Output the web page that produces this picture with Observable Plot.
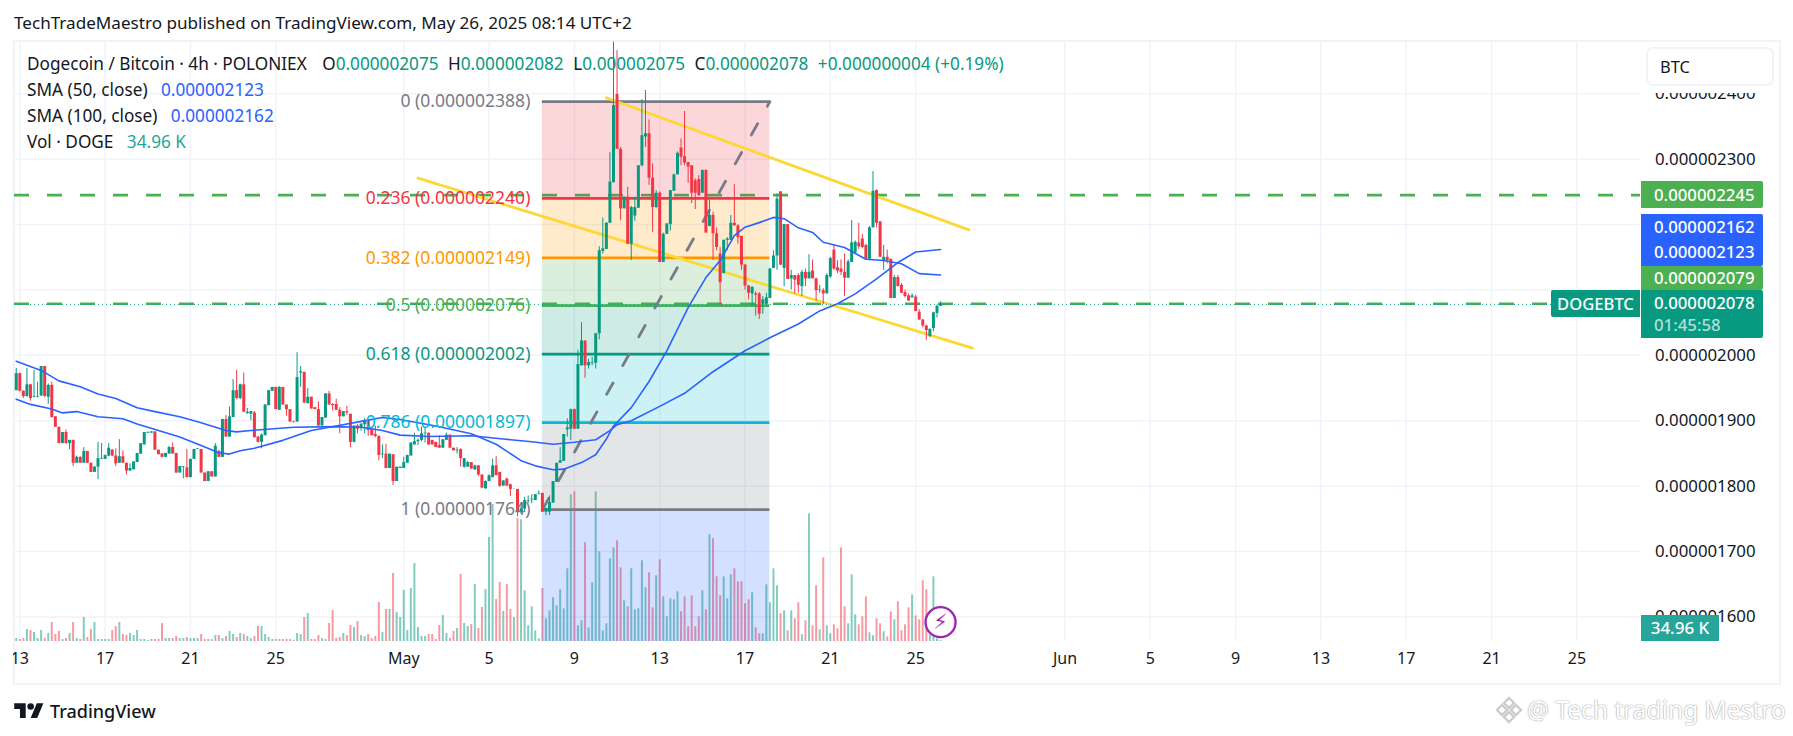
<!DOCTYPE html>
<html><head><meta charset="utf-8">
<script src="https://cdn.jsdelivr.net/npm/d3@7"></script>
<script src="https://cdn.jsdelivr.net/npm/@observablehq/plot@0.6"></script>
<style>
html,body{margin:0;padding:0;background:#fff;width:1793px;height:736px;overflow:hidden;font-family:"Noto Sans",sans-serif;color:#131722}
#title{position:absolute;left:14px;top:11px;font-size:17.1px;line-height:24px;white-space:nowrap}
#frame{position:absolute;left:13px;top:40px;width:1764px;height:641px;border:2px solid #F0F3FA}
#chart{position:absolute;left:0;top:41px}
#mask{position:absolute;left:0;top:640px;width:13px;height:43px;background:#fff}
.legend{position:absolute;left:27px;font-size:17.2px;line-height:20px;white-space:nowrap}
#l0{top:54px}#l1{top:80px}#l2{top:106px}#l3{top:132px}
.g{color:#089981}.b{color:#2962FF}.t{color:#26A69A}
.gap{margin-left:5px}
.gap0{margin-left:11px}
.gapv{margin-left:9px}
#unit{position:absolute;left:1646px;top:47px;width:124px;height:35px;border:2px solid #F0F3FA;border-radius:7px;background:#fff;box-shadow:0 0 0 3px #fff,0 4px 0 3px #fff;font-size:16.4px;line-height:35px;text-indent:12px}
.badge{position:absolute;left:1641px;width:109px;padding-left:13px;color:#fff;font-size:16.8px;font-weight:500;border-radius:0 2px 2px 0}
#b0{top:181px;height:27px;line-height:27px;background:#4CAF50}
#b1{top:214px;height:52px;line-height:25px;background:#2962FF}
#b2{top:266px;height:24px;line-height:24px;background:#4CAF50}
#b3{top:290px;height:48px;line-height:26px;background:#089981}
#b3 span{display:block;line-height:18px;color:rgba(255,255,255,.7);font-size:16.8px}
#sym{position:absolute;left:1551px;top:290px;width:89px;height:27px;line-height:27px;text-align:center;background:#089981;color:#fff;font-size:16.6px;font-weight:500;border-radius:2px 0 0 2px}
#volb{position:absolute;left:1641px;top:615px;width:78px;height:26px;line-height:26px;background:#26A69A;color:#fff;font-size:17px;font-weight:500;text-align:center}
#logo{position:absolute;left:14px;top:700px;width:30px;height:23px}
#brand{position:absolute;left:50px;top:698px;font-size:18px;line-height:26px;font-weight:500}
#mark{position:absolute;left:1527px;top:694px;font-size:24.5px;line-height:32px;color:#fff;white-space:nowrap;text-shadow:0 0 1.5px #999,0 0 1px #aaa}
#diamond{position:absolute;left:1494px;top:695px;width:30px;height:30px}
</style></head><body>
<div id="title"></div>
<div id="frame"></div>
<div id="chart"></div>
<div id="mask"></div>
<div class="legend" id="l0"></div><div class="legend" id="l1"></div><div class="legend" id="l2"></div><div class="legend" id="l3"></div>
<div id="unit">BTC</div>
<div class="badge" id="b0"></div><div class="badge" id="b1"></div><div class="badge" id="b2"></div><div class="badge" id="b3"></div>
<div id="sym"></div><div id="volb"></div>
<svg id="logo" viewBox="0 0 36 28"><path fill="#131722" d="M14 22H7V11H0V4h14v18zM28 22h-8l7.5-18h8L28 22z"/><circle fill="#131722" cx="20" cy="8" r="4"/></svg>
<div id="brand">TradingView</div>
<svg id="diamond" viewBox="0 0 30 30"><g fill="none" stroke="#ccc" stroke-width="2.4"><path d="M15 3l5 5-5 5-5-5zM15 17l5 5-5 5-5-5zM8 10l5 5-5 5-5-5zM22 10l5 5-5 5-5-5z"/></g></svg>
<div id="mark">@ Tech trading Mestro</div>
<script>
// prices are in units of 0.000000001 BTC; bars are 4h, the first at 12 Apr 20:00
const opens=[1946,1972,1945,1937,1955,1936,1936,1938,1983,1936,
1954,1906,1890,1865,1882,1865,1870,1835,1844,1835,
1853,1835,1821,1829,1841,1841,1846,1855,1846,1835,
1845,1835,1823,1825,1836,1849,1863,1881,1881,1883,
1855,1849,1844,1849,1859,1850,1820,1829,1828,1813,
1841,1856,1856,1820,1807,1822,1814,1853,1844,1902,
1875,1905,1946,1934,1955,1911,1910,1912,1875,1867,
1877,1923,1945,1951,1916,1951,1924,1917,1898,1898,
1973,1974,1926,1936,1920,1917,1892,1904,1941,1925,
1925,1916,1906,1914,1910,1867,1892,1888,1894,1900,
1886,1879,1876,1848,1849,1827,1848,1807,1827,1827,
1835,1846,1863,1868,1870,1880,1881,1870,1867,1862,
1858,1870,1878,1858,1854,1856,1829,1829,1836,1825,
1831,1817,1796,1807,1813,1831,1821,1800,1811,1802,
1795,1795,1760,1765,1777,1779,1778,1787,1789,1760,
1760,1774,1806,1835,1838,1886,1887,1917,1887,1984,
2022,1984,1988,1988,2033,2159,2162,2202,2264,2399,
2315,2224,2242,2170,2213,2225,2290,2334,2339,2271,
2226,2248,2142,2185,2200,2251,2276,2317,2304,2295,
2290,2267,2269,2248,2283,2197,2214,2186,2155,2125,
2176,2176,2202,2198,2182,2138,2106,2094,2094,2094,
2078,2078,2087,2133,2152,2250,2133,2200,2117,2122,
2122,2105,2127,2117,2129,2117,2099,2099,2094,2120,
2161,2134,2132,2127,2118,2142,2157,2172,2178,2168,
2147,2195,2252,2204,2145,2150,2147,2087,2119,2107,
2096,2091,2088,2089,2066,2054,2045,2029,2041,2064,2075];
const closes=[1972,1945,1937,1955,1934,1937,1937,1983,1937,1954,
1905,1890,1865,1882,1865,1870,1835,1844,1835,1853,
1835,1821,1829,1842,1842,1847,1858,1846,1834,1845,
1835,1823,1827,1837,1850,1865,1882,1882,1883,1855,
1848,1844,1850,1859,1849,1820,1830,1830,1813,1841,
1856,1857,1820,1807,1822,1814,1861,1844,1902,1875,
1906,1946,1934,1955,1913,1913,1914,1874,1867,1878,
1924,1946,1951,1917,1951,1924,1917,1898,1897,1966,
1975,1927,1936,1918,1917,1892,1905,1941,1924,1923,
1916,1906,1914,1912,1867,1892,1887,1895,1900,1885,
1877,1876,1847,1849,1827,1849,1807,1829,1829,1836,
1847,1866,1868,1870,1880,1881,1863,1863,1859,1858,
1871,1878,1858,1854,1855,1842,1842,1836,1826,1831,
1817,1797,1807,1816,1831,1816,1800,1808,1800,1795,
1795,1760,1765,1778,1778,1780,1787,1788,1760,1766,
1775,1807,1835,1839,1879,1889,1917,1887,1986,2022,
1984,1989,1989,2033,2160,2163,2202,2265,2382,2315,
2224,2242,2170,2226,2226,2290,2336,2339,2271,2226,
2248,2142,2185,2201,2252,2276,2309,2303,2294,2288,
2248,2248,2244,2283,2187,2214,2186,2165,2111,2176,
2178,2202,2198,2180,2138,2106,2095,2104,2092,2063,
2085,2088,2132,2152,2239,2138,2200,2116,2122,2115,
2107,2127,2117,2127,2117,2099,2100,2094,2122,2148,
2132,2129,2127,2118,2143,2172,2173,2166,2165,2147,
2195,2251,2202,2150,2150,2145,2087,2119,2105,2095,
2090,2083,2091,2067,2054,2045,2038,2040,2065,2075,2078];
const highs=[1980,1973,1946,1980,1956,1977,1959,1983,1983,1956,
1959,1906,1890,1882,1886,1870,1870,1846,1845,1859,
1853,1835,1830,1867,1865,1847,1865,1856,1857,1871,
1854,1835,1834,1837,1850,1865,1882,1883,1883,1883,
1855,1850,1850,1861,1866,1850,1830,1830,1856,1841,
1856,1857,1856,1820,1822,1822,1865,1855,1902,1908,
1921,1963,1977,1956,1973,1919,1914,1914,1876,1880,
1925,1946,1951,1951,1952,1951,1924,1917,1899,2004,
1983,1974,1949,1936,1920,1929,1905,1941,1945,1926,
1933,1920,1914,1922,1910,1892,1894,1895,1903,1902,
1889,1892,1877,1863,1864,1849,1848,1829,1829,1844,
1847,1866,1881,1872,1890,1890,1881,1870,1867,1877,
1871,1881,1878,1858,1859,1857,1842,1838,1836,1832,
1831,1817,1808,1817,1841,1845,1821,1808,1812,1803,
1796,1795,1775,1783,1785,1787,1787,1793,1789,1766,
1785,1807,1835,1859,1879,1903,1918,1918,2008,2050,
2022,1994,1997,2033,2166,2210,2203,2310,2479,2466,
2318,2242,2257,2228,2242,2290,2391,2405,2360,2293,
2252,2250,2187,2201,2252,2277,2311,2331,2373,2295,
2290,2270,2275,2283,2283,2237,2219,2195,2165,2176,
2180,2214,2261,2200,2182,2139,2107,2105,2097,2096,
2090,2095,2133,2160,2247,2250,2200,2200,2130,2122,
2125,2130,2132,2154,2146,2118,2107,2102,2125,2150,
2169,2145,2146,2155,2146,2206,2175,2202,2185,2170,
2197,2281,2253,2205,2168,2161,2147,2122,2122,2110,
2100,2094,2094,2092,2070,2055,2046,2040,2066,2077,2082];
const lows=[1946,1944,1934,1936,1930,1935,1935,1937,1936,1925,
1904,1890,1865,1865,1864,1856,1830,1835,1835,1835,
1835,1821,1821,1810,1841,1841,1845,1845,1830,1835,
1835,1817,1823,1825,1836,1849,1863,1881,1881,1855,
1848,1843,1844,1849,1849,1820,1820,1811,1813,1813,
1841,1856,1820,1807,1807,1814,1814,1844,1844,1875,
1875,1905,1932,1932,1913,1910,1900,1874,1866,1857,
1877,1923,1945,1917,1916,1924,1907,1898,1897,1898,
1951,1926,1926,1918,1917,1892,1892,1904,1924,1915,
1916,1880,1906,1908,1859,1866,1880,1884,1880,1876,
1877,1874,1839,1842,1827,1827,1801,1807,1827,1827,
1835,1846,1863,1862,1868,1866,1863,1863,1859,1858,
1858,1870,1858,1854,1849,1829,1827,1829,1826,1824,
1815,1796,1795,1807,1813,1816,1798,1800,1800,1784,
1795,1753,1757,1760,1773,1773,1778,1787,1760,1755,
1755,1774,1806,1835,1838,1875,1870,1887,1887,1984,
1965,1979,1984,1979,2024,2155,2162,2202,2264,2315,
2206,2224,2170,2145,2205,2225,2288,2318,2260,2188,
2224,2142,2142,2185,2190,2251,2276,2290,2290,2263,
2232,2223,2244,2248,2187,2197,2145,2160,2077,2125,
2160,2176,2198,2170,2130,2100,2085,2075,2060,2055,
2063,2075,2087,2133,2130,2138,2105,2116,2100,2094,
2095,2090,2105,2117,2117,2083,2095,2078,2094,2118,
2130,2125,2122,2090,2118,2142,2155,2162,2163,2147,
2147,2195,2195,2150,2130,2140,2087,2087,2105,2095,
2088,2083,2088,2067,2054,2042,2023,2027,2036,2057,2075];
// volume per bar, in thousands of DOGE
const volumes=[90,60,90,360,330,270,90,330,90,240,
570,210,300,60,90,240,570,90,60,720,
120,360,570,60,60,60,60,330,450,570,
210,180,240,180,330,60,60,30,60,60,
60,540,90,90,90,150,90,90,120,90,
90,90,210,60,60,60,180,180,90,150,
300,210,120,240,210,150,90,150,450,450,
210,120,60,60,60,60,
60,60,30,240,210,720,840,60,60,180,
90,60,540,930,90,120,240,180,480,420,
600,180,150,210,90,150,1170,270,960,960,
2040,870,720,1530,330,1590,2340,420,150,150,
210,210,60,480,780,240,90,300,390,2010,
540,450,510,1710,390,1020,1560,3120,4110,1260,
1770,900,1710,960,720,3690,
3650,1520,470,1040,320,80,1590,680,920,1310,
1070,1550,980,2180,4400,4490,470,620,2960,410,
1760,4490,2690,320,530,2480,2810,3020,2210,1220,
1040,2180,950,980,2420,1610,2060,1010,1970,2450,
1340,740,1280,1250,1490,890,1340,440,1370,440,
740,1520,950,3200,3080,1940,1370,1940,1280,2000,
2180,1790,1790,1130,1250,1460,410,230,230,1700,
1160,2180,1670,830,920,320,920,680,1160,200,
620,3830,470,1670,350,2510,470,230,500,380,
2810,1040,530,2000,800,500,740,1340,260,170,
680,530,290,140,890,650,1190,320,500,1010,
1400,770,650,1820,1550,200,1940,80,34.96];
const sma50Bars=[-1,3,9,12,16,22,29,33,39,45,51,56,59,62,66,74,82,89,96,102,107,117,127,134,141,145,150,153,158,162,165,167,172,177,182,188,193,197,201,204,208,212,215,219,223,226,232,238,243,248,253,259];
const sma50Values=[1933,1925,1918,1912,1914,1906,1903,1895,1885,1875,1862,1851,1849,1854,1858,1870,1885,1892,1899,1905,1902,1892,1880,1864,1839,1831,1825,1826,1836,1848,1872,1892,1920,1960,2007,2073,2119,2145,2183,2196,2203,2211,2209,2195,2188,2173,2165,2147,2145,2140,2125,2123];
const sma100Bars=[-1,6,11,17,22,27,33,38,45,51,58,61,65,77,89,96,102,107,115,127,136,144,150,156,162,166,168,172,180,187,195,204,211,219,225,230,235,241,247,252,259];
const sma100Values=[1991,1977,1961,1952,1941,1934,1920,1914,1906,1897,1885,1883,1885,1890,1891,1890,1885,1878,1876,1877,1872,1868,1864,1867,1871,1885,1894,1900,1922,1942,1975,2007,2027,2048,2068,2079,2094,2117,2142,2158,2162];
const fibRatios=["0","0.236","0.382","0.5","0.618","0.786","1"];
const fibPrices=[2388,2240,2149,2076,2002,1897,1764];
const fibColors=["#787B86","#F23645","#FF9800","#4CAF50","#089981","#00BCD4","#787B86"];
const fibFills=["#F23645","#FF9800","#4CAF50","#089981","#00BCD4","#787B86","#2962FF"];
const fibFromBar=147, fibToBar=211;
const channelUpperBars=[165,267], channelUpperPrices=[2394,2192];
const channelLowerBars=[112,268], channelLowerPrices=[2271,2011];
const levelPrices=[2245,2079];
const lastPrice=2078;
const priceTicks=[2400,2300,2000,1900,1800,1700,1600];
const gridPrices=[2400,2300,2200,2100,2000,1900,1800,1700,1600];
const dayTicks=[[3,13],[3,17],[3,21],[3,25],[4,1],[4,5],[4,9],[4,13],[4,17],[4,21],[4,25],[5,1],[5,5],[5,9],[5,13],[5,17],[5,21],[5,25]];
const dayLabels=["13","17","21","25","May","5","9","13","17","21","25","Jun","5","9","13","17","21","25"];
const badgeValues=["0.000002245","0.000002162","0.000002123","0.000002079","0.000002078"];

const fmt=d=>(d*1e-9).toFixed(9);
const H4=4*3600e3, DAY=24*3600e3, T0=Date.UTC(2025,3,13);
const barTime=i=>new Date(T0+i*H4);
// geometry of the time axis: 21.33 px per day
const pxDate=px=>new Date(T0+(px-19.3)/21.33*DAY);
const xMin=pxDate(14), paneEnd=pxDate(1640), xMax=pxDate(1778);
const yMin=1562.4, yMax=2480;
const volPrice=v=>yMin+v*0.051; // the volume pane shares the bottom of the price pane

const bars=opens.map((o,k)=>({t:barTime(k-1),o,h:highs[k],l:lows[k],c:closes[k],v:volumes[k]??0,
  col:closes[k]>=o?"#089981":"#F23645"}));
const ticks=dayTicks.map(([m,d],k)=>({t:new Date(Date.UTC(2025,m,d)),s:dayLabels[k]}));
const sma50=sma50Bars.map((b,k)=>({t:barTime(b),p:sma50Values[k]}));
const sma100=sma100Bars.map((b,k)=>({t:barTime(b),p:sma100Values[k]}));
const fibA=barTime(fibFromBar), fibB=barTime(fibToBar);
const fibLevels=fibRatios.map((r,k)=>({r,p:fibPrices[k],col:fibColors[k],s:`${r} (${fmt(fibPrices[k])})`}));
const fibBands=fibFills.map((f,k)=>({y1:fibPrices[k],y2:k<6?fibPrices[k+1]:yMin,f}));
const chan=(bs,ps)=>bs.map((b,k)=>({t:barTime(b),p:ps[k]}));
const diagonal=[{t:fibA,p:fibPrices[6]},{t:fibB,p:fibPrices[0]}];
const last=bars[bars.length-1];

const plot=Plot.plot({
  width:1793,height:642,marginLeft:14,marginRight:15,marginTop:0,marginBottom:42,
  style:{background:"transparent",overflow:"visible",fontFamily:'"Noto Sans",sans-serif'},
  x:{type:"utc",domain:[xMin,xMax],axis:null},
  y:{domain:[yMin,yMax],axis:null},
  marks:[
    Plot.ruleX(ticks,{x:"t",y1:yMin,y2:yMax,stroke:"#F0F3FA",strokeWidth:1.5}),
    Plot.ruleY(gridPrices,{y:d=>d,x1:xMin,x2:paneEnd,stroke:"#F0F3FA",strokeWidth:1.5}),
    Plot.ruleX(bars,{x:"t",y1:yMin,y2:d=>volPrice(d.v),stroke:"col",strokeOpacity:.5,strokeWidth:2}),
    Plot.ruleY(levelPrices,{y:d=>d,x1:xMin,x2:paneEnd,stroke:"#4CAF50",strokeWidth:2.6,strokeDasharray:"15 18"}),
    Plot.rect(fibBands,{x1:fibA,x2:fibB,y1:"y1",y2:"y2",fill:"f",fillOpacity:.2}),
    Plot.ruleY(fibLevels,{y:"p",x1:fibA,x2:fibB,stroke:"col",strokeWidth:2.8}),
    Plot.line(chan(channelUpperBars,channelUpperPrices),{x:"t",y:"p",stroke:"#FDD835",strokeWidth:2.8}),
    Plot.line(chan(channelLowerBars,channelLowerPrices),{x:"t",y:"p",stroke:"#FDD835",strokeWidth:2.8}),
    Plot.line(diagonal,{x:"t",y:"p",stroke:"#787B86",strokeWidth:2.8,strokeDasharray:"13 20"}),
    Plot.ruleY([lastPrice],{y:d=>d,x1:xMin,x2:paneEnd,stroke:"#089981",strokeWidth:1,strokeDasharray:"1 3"}),
    Plot.ruleX(bars,{x:"t",y1:"l",y2:"h",stroke:"col",strokeWidth:1}),
    Plot.ruleX(bars,{x:"t",y1:"o",y2:"c",stroke:"col",strokeWidth:3}),
    Plot.line(sma100,{x:"t",y:"p",stroke:"#2962FF",strokeWidth:1.6}),
    Plot.line(sma50,{x:"t",y:"p",stroke:"#2962FF",strokeWidth:1.6}),
    Plot.text(fibLevels,{x:fibA,y:"p",text:"s",fill:"col",fontSize:17.5,textAnchor:"end",dx:-12}),
    Plot.dot([last],{x:"t",y:()=>1592,r:15,fill:"#fff",stroke:"#9C27B0",strokeWidth:2.4}),
    Plot.text([last],{x:"t",y:()=>1592,text:()=>"\u26A1",fill:"#9C27B0",fontSize:21,fontFamily:"DejaVu Sans"}),
    Plot.text(priceTicks,{y:d=>d,text:fmt,frameAnchor:"right",textAnchor:"end",dx:-23,fill:"#131722",fontSize:16.8}),
    Plot.text(ticks,{x:"t",text:"s",frameAnchor:"bottom",dy:22,fill:"#131722",fontSize:16,fontWeight:d=>d.s==="May"||d.s==="Jun"?500:400})
  ]
});
document.getElementById("chart").append(plot);

document.getElementById("title").textContent="TechTradeMaestro published on TradingView.com, May 26, 2025 08:14 UTC+2";
const p=fmt;
document.getElementById("l0").innerHTML=`Dogecoin / Bitcoin · 4h · POLONIEX<span class="gap0">&nbsp;O</span><span class="g">${p(last.o)}</span><span class="gap">&nbsp;H</span><span class="g">${p(last.h)}</span><span class="gap">&nbsp;L</span><span class="g">${p(last.l)}</span><span class="gap">&nbsp;C</span><span class="g">${p(last.c)}</span><span class="g gap">&nbsp;+0.000000004 (+0.19%)</span>`;
document.getElementById("l1").innerHTML=`SMA (50, close) <span class="b gapv">${p(sma50Values[sma50Values.length-1])}</span>`;
document.getElementById("l2").innerHTML=`SMA (100, close) <span class="b gapv">${p(sma100Values[sma100Values.length-1])}</span>`;
document.getElementById("l3").innerHTML=`Vol · DOGE <span class="t gapv">34.96 K</span>`;
document.getElementById("b0").textContent=badgeValues[0];
document.getElementById("b1").innerHTML=badgeValues[1]+"<br>"+badgeValues[2];
document.getElementById("b2").textContent=badgeValues[3];
document.getElementById("b3").innerHTML=badgeValues[4]+"<span>01:45:58</span>";
document.getElementById("sym").textContent="DOGEBTC";
document.getElementById("volb").textContent="34.96 K";
</script>
</body></html>
